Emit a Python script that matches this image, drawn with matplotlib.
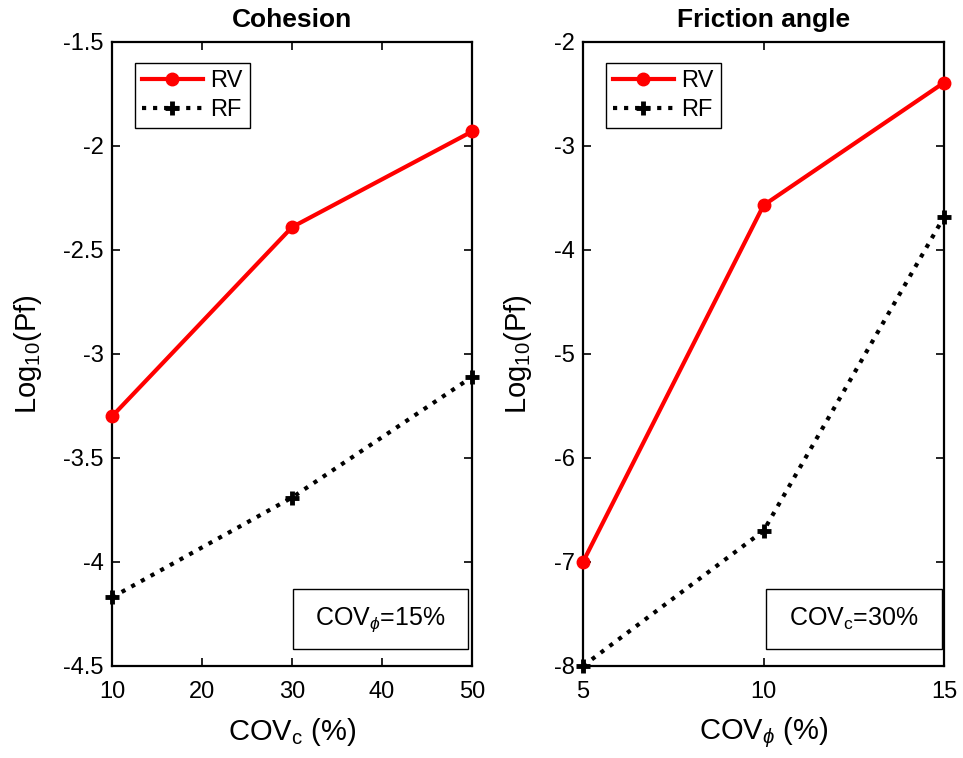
import matplotlib
matplotlib.use("Agg")
import matplotlib.pyplot as plt
from matplotlib.patches import Rectangle

plt.rcParams["font.family"] = ["Liberation Sans", "DejaVu Sans"]
plt.rcParams["mathtext.fontset"] = "custom"
plt.rcParams["mathtext.rm"] = "Liberation Sans"
plt.rcParams["mathtext.it"] = "Liberation Sans:italic"

# Cohesion panel
cov_c = [10, 30, 50]
rv_c = [-3.30, -2.39, -1.93]
rf_c = [-4.17, -3.69, -3.11]

# Friction angle panel
cov_phi = [5, 10, 15]
rv_phi = [-7.00, -3.57, -2.39]
rf_phi = [-8.00, -6.70, -3.68]

fig = plt.figure(figsize=(9.63, 7.58), dpi=100)
ax1 = fig.add_axes([0.1163, 0.1214, 0.374, 0.8232])
ax2 = fig.add_axes([0.6054, 0.1214, 0.375, 0.8232])


def style(ax):
    ax.tick_params(direction="in", top=True, right=True, length=6, width=1.2,
                   labelsize=17)
    ax.tick_params(axis="x", pad=11)
    ax.tick_params(axis="y", pad=6)
    for s in ax.spines.values():
        s.set_linewidth(1.6)


def draw(ax, x, rv, rf):
    ax.plot(x, rv, "-", color="red", lw=3, marker="o", ms=9, label="RV",
            clip_on=False, zorder=3)
    ax.plot(x, rf, ":", color="black", lw=3, marker="+", ms=10, mew=3.5,
            label="RF", clip_on=False, zorder=3)
    ax.legend(loc="upper left", bbox_to_anchor=(0.03, 0.985), fontsize=17,
              fancybox=False, edgecolor="black", framealpha=1, handlelength=2.6,
              handletextpad=0.3, borderpad=0.3, labelspacing=0.3)


def note(ax, x0, x1, label):
    ax.add_patch(Rectangle((x0, 0.028), x1 - x0, 0.095, transform=ax.transAxes,
                           fc="white", ec="black", lw=1, zorder=4))
    ax.text((x0 + x1) / 2, 0.075, label, transform=ax.transAxes, fontsize=18,
            ha="center", va="center", zorder=5)


# Panel de coesao
draw(ax1, cov_c, rv_c, rf_c)
ax1.set_xlim(10, 50)
ax1.set_ylim(-4.5, -1.5)
ax1.set_xticks([10, 20, 30, 40, 50])
ax1.set_yticks([-4.5, -4, -3.5, -3, -2.5, -2, -1.5])
ax1.set_yticklabels(["-4.5", "-4", "-3.5", "-3", "-2.5", "-2", "-1.5"])
ax1.set_title("Cohesion", fontsize=19, fontweight="bold", pad=11)
ax1.set_xlabel(r"COV$_{\mathrm{c}}$ (%)", fontsize=21, labelpad=9)
ax1.set_ylabel(r"Log$_{10}$(Pf)", fontsize=21, labelpad=14)
style(ax1)
note(ax1, 0.503, 0.989, r"COV$_{\phi}$=15%")

# Panel do angulo de atrito
draw(ax2, cov_phi, rv_phi, rf_phi)
ax2.set_xlim(5, 15)
ax2.set_ylim(-8, -2)
ax2.set_xticks([5, 10, 15])
ax2.set_yticks([-8, -7, -6, -5, -4, -3, -2])
ax2.set_yticklabels(["-8", "-7", "-6", "-5", "-4", "-3", "-2"])
ax2.set_title("Friction angle", fontsize=19, fontweight="bold", pad=11)
ax2.set_xlabel(r"COV$_{\phi}$ (%)", fontsize=21, labelpad=9)
ax2.set_ylabel(r"Log$_{10}$(Pf)", fontsize=21, labelpad=14)
style(ax2)
note(ax2, 0.507, 0.994, r"COV$_{\mathrm{c}}$=30%")

fig.savefig("out.png", dpi=100)
